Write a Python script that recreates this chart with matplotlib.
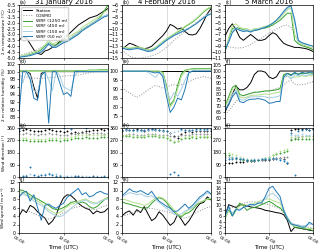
import matplotlib

matplotlib.use("Agg")
import matplotlib.pyplot as plt
import numpy as np

hours = list(range(25))
days = ["31 January 2016", "4 February 2016", "5 March 2016"]
sources = ["Station", "COSMO", "WRF (1250 m)", "WRF (450 m)", "WRF (150 m)", "WRF (50 m)"]

# ---- 2 m temperature (degC), order: station, cosmo, wrf1250, wrf450, wrf150, wrf50
temp_jan31 = [
    [-3.5, -3.2, -3.3, -3.8, -4.3, -4.6, -4.7, -4.4, -4.3, -4.1, -3.9, -3.6, -3.4,
     -3.1, -2.8, -2.5, -2.2, -2.0, -1.8, -1.6, -1.5, -1.4, -1.2, -1.0, -0.8],
    [-4.8, -4.7, -4.6, -4.5, -4.4, -4.3, -4.1, -3.9, -3.9, -4.0, -4.0, -3.9, -3.7,
     -3.5, -3.3, -3.0, -2.8, -2.6, -2.4, -2.2, -2.0, -1.8, -1.6, -1.5, -1.4],
    [-4.9, -4.85, -4.8, -4.7, -4.6, -4.5, -4.3, -4.0, -3.7, -3.9, -3.9, -3.7, -3.5,
     -3.4, -3.3, -3.1, -2.9, -2.6, -2.4, -2.2, -2.0, -1.8, -1.5, -1.0, -0.5],
    [-4.85, -4.8, -4.7, -4.6, -4.5, -4.4, -4.2, -3.9, -3.5, -3.8, -3.7, -3.5, -3.3,
     -3.2, -3.1, -2.9, -2.7, -2.4, -2.2, -2.0, -1.8, -1.6, -1.4, -1.1, -0.9],
    [-4.9, -4.85, -4.8, -4.75, -4.65, -4.55, -4.4, -4.1, -3.7, -4.0, -4.0, -3.8, -3.6,
     -3.5, -3.3, -3.1, -2.9, -2.6, -2.4, -2.2, -2.0, -1.8, -1.6, -1.4, -1.3],
    [-4.95, -4.9, -4.85, -4.8, -4.7, -4.6, -4.5, -4.2, -3.8, -4.1, -4.1, -3.9, -3.7,
     -3.6, -3.4, -3.2, -3.0, -2.7, -2.5, -2.3, -2.1, -1.9, -1.7, -1.5, -1.4],
]
temp_feb04 = [
    [-13.5, -13.0, -12.5, -12.7, -13.0, -13.3, -13.4, -13.3, -13.0, -12.4, -11.8, -11.2, -10.4,
     -9.3, -9.6, -10.1, -9.9, -10.5, -11.0, -11.1, -10.9, -10.0, -8.8, -7.5, -6.6],
    [-13.6, -14.2, -14.7, -14.9, -15.0, -15.0, -14.9, -14.8, -14.6, -14.4, -14.1, -13.7, -13.2,
     -12.6, -12.0, -11.5, -11.0, -10.5, -10.0, -9.5, -9.0, -8.5, -8.0, -7.5, -7.0],
    [-13.2, -13.3, -13.4, -13.3, -13.2, -13.3, -13.5, -13.7, -13.6, -13.3, -12.8, -12.3, -11.8,
     -11.4, -11.0, -10.6, -10.2, -9.7, -9.3, -8.9, -8.4, -7.8, -7.2, -6.7, -6.4],
    [-13.1, -13.2, -13.3, -13.2, -13.1, -13.2, -13.4, -13.6, -13.5, -13.2, -12.7, -12.2, -11.7,
     -11.3, -10.9, -10.5, -10.1, -9.6, -9.2, -8.8, -8.3, -7.7, -7.1, -6.6, -6.3],
    [-13.2, -13.4, -13.5, -13.4, -13.3, -13.4, -13.6, -13.8, -13.7, -13.4, -12.9, -12.4, -11.9,
     -11.5, -11.1, -10.8, -10.5, -10.2, -9.9, -9.5, -9.1, -8.6, -8.1, -7.7, -7.4],
    [-13.3, -13.5, -13.6, -13.5, -13.4, -13.5, -13.7, -13.9, -13.8, -13.5, -13.0, -12.5, -12.0,
     -11.6, -11.2, -10.9, -10.6, -10.3, -10.0, -9.6, -9.2, -8.7, -8.2, -7.8, -7.5],
]
temp_mar05 = [
    [-7.3, -6.0, -5.2, -6.2, -7.5, -8.0, -7.5, -7.0, -7.5, -8.0, -8.0, -7.8, -7.2,
     -6.7, -7.0, -7.8, -8.5, -8.8, -9.0, -9.2, -9.2, -9.3, -9.4, -9.6, -9.9],
    [-9.0, -9.1, -9.2, -9.3, -9.3, -9.2, -9.0, -8.7, -8.3, -8.0, -7.6, -7.2, -6.8,
     -6.4, -6.1, -5.8, -5.5, -5.4, -5.8, -7.0, -8.0, -8.6, -9.0, -9.3, -9.5],
    [-10.0, -8.0, -6.0, -5.8, -6.0, -6.2, -6.3, -6.5, -6.3, -6.2, -6.0, -5.9, -5.7,
     -5.4, -5.0, -4.6, -4.0, -3.4, -3.4, -8.0, -8.6, -8.9, -9.1, -9.3, -9.6],
    [-9.8, -7.5, -5.5, -5.2, -5.8, -6.0, -6.0, -6.3, -6.0, -6.0, -5.8, -5.6, -5.4,
     -5.1, -4.7, -4.2, -3.5, -2.8, -2.5, -7.0, -8.3, -8.7, -8.9, -9.1, -9.3],
    [-9.5, -8.0, -6.5, -5.8, -6.2, -6.3, -6.2, -6.5, -6.2, -6.1, -5.9, -5.7, -5.5,
     -5.1, -4.6, -4.0, -3.3, -2.6, -2.2, -5.0, -8.2, -8.5, -8.7, -8.9, -9.0],
    [-9.6, -8.3, -6.7, -6.0, -6.3, -6.5, -6.4, -6.6, -6.3, -6.2, -6.0, -5.8, -5.5,
     -5.1, -4.6, -3.9, -3.1, -2.4, -2.1, -4.5, -8.0, -8.4, -8.6, -8.8, -9.0],
]

# ---- 2 m relative humidity (%)
rh_jan31 = [
    [100, 100, 100, 99.5, 96, 93, 99.5, 100, 100, 100, 100, 100, 100,
     100, 100, 100, 100, 100, 100, 100, 100, 100, 100, 100, 100],
    [99.0, 98.8, 98.6, 98.4, 98.3, 98.2, 98.2, 98.3, 98.4, 98.5, 98.6, 98.7, 98.8,
     98.9, 99.0, 99.0, 99.1, 99.3, 99.5, 99.7, 99.9, 100, 100, 100.1, 100.2],
    [100.2, 100.2, 100.2, 100.2, 100.2, 100.2, 100.2, 100.2, 100.2, 100.2, 100.2, 100.2, 100.2,
     100.2, 100.2, 100.2, 100.3, 100.3, 100.3, 100.4, 100.4, 100.4, 100.5, 100.5, 100.5],
    [100.1, 100.1, 100.1, 100.1, 100.1, 100.1, 100.1, 100.1, 100.1, 100.1, 100.1, 100.1, 100.1,
     100.1, 100.1, 100.1, 100.2, 100.2, 100.2, 100.3, 100.3, 100.3, 100.4, 100.4, 100.4],
    [100, 97, 100, 99, 95, 94.5, 99, 100, 98, 95, 100, 99, 96,
     95.5, 95, 99, 100, 100, 100, 100, 100, 100, 100, 100, 100],
    [89, 100, 100, 98, 93, 92.5, 99, 100, 86.5, 100, 100, 97, 94,
     94.5, 93.5, 100, 100, 100, 100, 100, 100, 100, 100, 100, 100],
]
rh_feb04 = [
    [100, 100, 100, 100, 100, 100, 100, 100, 100, 100, 100, 100, 100,
     100, 100, 100, 100, 100, 100, 100, 100, 100, 100, 100, 100],
    [91, 89, 88, 86.5, 85.5, 86.5, 88, 89.5, 91, 92, 91.5, 90.5, 91,
     92, 92.5, 92, 92.5, 93, 94, 95, 96, 96.5, 97, 96.5, 96],
    [100, 100, 100, 100, 100, 100, 100, 100, 100, 100, 100, 99.5, 92,
     81, 84, 92, 98.5, 100.5, 101, 101.3, 101.5, 101.5, 101.5, 101.5, 101.5],
    [100, 100, 100, 100, 100, 100, 100, 100, 100, 100, 100, 99, 91,
     80, 83, 90, 97, 100, 100.8, 101, 101.2, 101.2, 101.2, 101.2, 101.2],
    [100, 100, 100, 100, 100, 100, 100, 99.5, 98, 96.5, 99, 98, 90,
     84, 88, 86, 90, 95, 99.5, 100.3, 100.5, 100.5, 100.5, 100.5, 100.5],
    [100, 100, 100, 100, 100, 100, 100, 100, 99.5, 99, 99.5, 97, 86,
     77, 80, 85, 84, 90, 99, 100, 100, 100, 100, 100, 100],
]
rh_mar05 = [
    [65, 72, 80, 87, 84, 84, 86, 90, 97, 100, 100, 99, 95,
     93.5, 95, 100, 100, 100, 100, 100, 100, 100, 100, 100, 100],
    [63, 66, 70, 74, 77, 79, 80, 81, 81.5, 82, 82.5, 83, 83.5,
     84, 85, 86, 88, 91, 92, 89, 88, 88.5, 89, 90, 91],
    [70, 78, 86, 88, 80, 79, 80, 81, 82, 82, 82.5, 83, 83,
     83.5, 84, 85, 97, 98, 97, 98, 97.5, 98, 98, 98.5, 98],
    [69, 76, 84, 86, 78, 77, 78, 79, 79.5, 79.5, 80, 80.5, 80,
     81, 81.5, 82, 95, 96, 94, 95, 95, 96, 95.5, 96, 96],
    [68, 73, 80, 84, 76, 75, 77, 78, 78, 78, 78.5, 78, 77,
     77.5, 78, 79, 94, 96, 93, 97, 96, 97, 96, 97, 97],
    [67, 71, 78, 82, 74, 73, 75, 76, 76, 76.5, 76, 75, 72.5,
     73, 74, 74, 95, 98, 96, 99, 97, 99, 98, 99, 99],
]

# ---- wind direction (deg)
wdir_jan31 = [
    [340, 345, 350, 345, 340, 335, 340, 345, 350, 345, 340, 335, 330,
     335, 325, 330, 320, 330, 335, 340, 345, 345, 350, 345, 350],
    [315, 318, 320, 318, 315, 312, 315, 318, 320, 318, 315, 312, 310,
     312, 315, 318, 320, 322, 320, 318, 320, 322, 320, 318, 320],
    [272, 275, 270, 268, 265, 262, 265, 268, 270, 272, 270, 268, 272,
     275, 280, 285, 288, 290, 292, 290, 288, 290, 292, 295, 295],
    [285, 288, 285, 282, 280, 278, 280, 282, 285, 287, 285, 283, 287,
     290, 295, 300, 305, 308, 310, 310, 308, 310, 312, 312, 314],
    [5, 10, 15, 20, 12, 10, 18, 25, 30, 25, 20, 15, 10,
     8, 5, 8, 10, 6, 4, 3, 5, 4, 3, 2, 3],
    [355, 5, 10, 70, 15, 8, 12, 18, 20, 15, 10, 5, 358,
     2, 355, 5, 8, 3, 358, 2, 5, 3, 1, 4, 2],
]
wdir_feb04 = [
    [340, 345, 342, 348, 350, 345, 340, 345, 350, 348, 345, 340, 335,
     320, 300, 290, 315, 330, 335, 330, 335, 338, 340, 335, 338],
    [310, 312, 315, 314, 312, 310, 312, 314, 316, 315, 312, 310, 305,
     300, 295, 298, 305, 310, 312, 314, 315, 316, 315, 314, 315],
    [300, 302, 298, 296, 295, 294, 296, 298, 300, 298, 296, 292, 285,
     270, 258, 262, 280, 288, 290, 292, 290, 292, 294, 292, 294],
    [305, 308, 305, 303, 302, 300, 303, 305, 307, 305, 303, 300, 295,
     280, 265, 268, 285, 295, 298, 300, 300, 302, 303, 302, 304],
    [342, 345, 343, 340, 338, 340, 342, 345, 348, 346, 343, 340, 335,
     320, 330, 340, 345, 342, 340, 342, 344, 345, 343, 345, 346],
    [348, 350, 348, 345, 343, 345, 348, 350, 352, 350, 348, 345, 340,
     25, 35, 15, 350, 348, 346, 348, 350, 352, 350, 351, 352],
]
wdir_mar05 = [
    [100, 102, 105, 108, 110, 112, 115, 118, 120, 122, 124, 126, 128,
     132, 136, 138, 130, 100, 345, 350, 352, 355, 350, 348, 352],
    [150, 145, 140, 135, 130, 128, 126, 125, 125, 126, 128, 130, 132,
     135, 138, 140, 145, 150, 280, 290, 295, 298, 300, 300, 300],
    [165, 160, 150, 140, 130, 125, 122, 120, 122, 125, 130, 140, 150,
     160, 170, 180, 185, 190, 275, 280, 282, 280, 278, 280, 282],
    [180, 175, 168, 160, 150, 140, 132, 128, 126, 128, 132, 140, 150,
     160, 175, 190, 200, 205, 295, 300, 298, 296, 300, 298, 300],
    [140, 145, 150, 148, 142, 135, 130, 128, 130, 132, 135, 138, 140,
     142, 140, 135, 125, 110, 305, 310, 312, 315, 310, 312, 315],
    [125, 130, 135, 138, 135, 130, 126, 124, 125, 128, 130, 132, 135,
     136, 133, 128, 115, 100, 325, 15, 340, 345, 350, 348, 352],
]

# ---- wind speed (m/s)
wspd_jan31 = [
    [4.0, 5.5, 4.8, 6.5, 6.0, 5.0, 4.2, 3.5, 2.0, 2.8, 4.2, 6.5, 8.3,
     9.0, 8.8, 8.0, 7.0, 6.3, 5.8, 5.5, 4.5, 5.2, 4.8, 5.0, 5.8],
    [5.8, 5.5, 5.2, 5.0, 4.6, 4.2, 3.8, 3.5, 3.3, 3.5, 3.8, 4.2, 4.8,
     5.2, 5.6, 6.0, 6.2, 6.3, 6.0, 5.8, 5.5, 5.6, 6.0, 6.3, 6.6],
    [10.2, 10.0, 9.6, 9.0, 8.4, 8.0, 7.5, 7.0, 6.5, 5.8, 5.5, 5.6, 6.0,
     6.5, 7.2, 7.4, 7.0, 7.3, 7.0, 6.2, 5.8, 6.2, 7.0, 7.8, 8.4],
    [9.8, 9.5, 9.0, 8.5, 8.0, 7.5, 7.0, 6.2, 5.5, 5.0, 4.5, 4.8, 5.5,
     6.2, 6.8, 7.0, 7.5, 7.8, 8.0, 7.5, 7.2, 7.0, 7.5, 8.0, 8.2],
    [9.0, 9.2, 8.8, 8.2, 7.5, 7.0, 6.5, 5.8, 5.0, 4.5, 4.0, 3.8, 4.2,
     5.0, 5.8, 6.5, 7.2, 7.5, 7.8, 7.2, 6.8, 7.0, 7.5, 7.8, 8.0],
    [8.4, 9.5, 9.8, 7.5, 9.0, 6.0, 3.0, 6.5, 6.8, 6.2, 5.8, 6.5, 7.0,
     8.4, 9.1, 9.8, 10.5, 9.0, 9.5, 8.5, 8.8, 9.5, 9.8, 9.3, 9.1],
]
wspd_feb04 = [
    [4.0, 4.8, 5.2, 4.2, 5.5, 4.8, 6.2, 4.5, 2.9, 3.5, 5.0, 4.2, 3.0,
     1.8, 2.5, 4.4, 3.2, 1.8, 2.8, 4.2, 5.8, 6.9, 7.2, 8.5, 7.8],
    [4.0, 4.2, 4.5, 4.8, 5.0, 5.2, 5.5, 5.8, 5.8, 5.6, 5.4, 5.2, 5.0,
     4.8, 4.5, 4.0, 3.6, 3.5, 3.8, 4.2, 4.8, 5.2, 5.6, 6.0, 6.2],
    [7.3, 7.0, 6.8, 6.5, 6.3, 6.0, 5.8, 6.0, 7.0, 7.8, 8.3, 8.0, 7.2,
     6.0, 5.0, 4.2, 3.8, 4.5, 4.8, 5.5, 6.5, 7.2, 7.5, 8.0, 7.8],
    [8.0, 7.8, 7.5, 7.2, 7.0, 6.8, 6.5, 6.8, 7.5, 8.2, 8.5, 8.2, 7.5,
     6.5, 5.5, 4.5, 4.0, 4.8, 5.5, 6.0, 6.8, 7.2, 7.6, 8.0, 8.2],
    [8.5, 9.0, 9.5, 9.3, 9.0, 9.2, 8.8, 8.5, 8.8, 8.0, 7.2, 6.5, 5.8,
     5.2, 4.5, 4.2, 4.5, 5.2, 5.5, 6.0, 7.0, 8.0, 8.8, 9.5, 9.0],
    [8.8, 9.5, 10.4, 9.8, 9.6, 10.0, 9.5, 9.0, 9.8, 8.5, 7.5, 6.9, 6.3,
     5.8, 5.0, 5.2, 6.0, 6.8, 5.8, 6.5, 7.5, 8.5, 9.1, 9.9, 9.2],
]
wspd_mar05 = [
    [6.0, 10.0, 9.5, 9.0, 9.8, 10.0, 9.5, 9.2, 9.0, 8.8, 8.5, 8.0, 7.8,
     7.5, 7.2, 7.0, 6.5, 4.5, 0.5, 2.0, 1.8, 1.5, 1.3, 1.0, 0.8],
    [8.0, 8.5, 9.0, 9.5, 10.0, 10.5, 10.8, 11.0, 11.0, 10.8, 10.5, 10.2, 10.0,
     9.5, 9.0, 8.5, 7.0, 5.0, 3.5, 3.0, 2.8, 2.5, 2.3, 2.0, 1.8],
    [5.0, 8.3, 6.0, 8.0, 10.6, 9.5, 8.0, 8.8, 9.0, 9.5, 10.0, 10.6, 11.2,
     10.5, 9.5, 8.9, 7.5, 5.5, 3.5, 2.0, 1.8, 1.6, 1.4, 1.2, 0.9],
    [5.5, 7.5, 7.0, 8.5, 9.5, 10.0, 9.8, 10.0, 10.5, 11.0, 11.5, 12.0, 12.0,
     11.5, 11.0, 10.5, 8.0, 5.0, 3.0, 2.5, 2.2, 2.0, 1.8, 1.6, 1.5],
    [5.8, 8.5, 7.0, 8.0, 8.5, 9.0, 9.5, 9.8, 10.0, 10.5, 11.0, 12.0, 13.5,
     14.0, 13.0, 11.5, 8.5, 5.5, 3.5, 3.0, 2.8, 2.5, 2.6, 3.2, 3.0],
    [6.0, 9.5, 6.0, 8.5, 8.0, 9.0, 9.5, 10.2, 9.8, 10.5, 10.6, 12.9, 15.8,
     16.5, 14.6, 12.9, 8.0, 5.0, 3.2, 2.8, 2.5, 2.0, 2.2, 3.8, 3.0],
]

panels = [
    [temp_jan31, temp_feb04, temp_mar05],
    [rh_jan31, rh_feb04, rh_mar05],
    [wdir_jan31, wdir_feb04, wdir_mar05],
    [wspd_jan31, wspd_feb04, wspd_mar05],
]
ylabels = ["2 m temperature (\u00b0C)", "2 m relative humidity (%)",
           "Wind direction (\u00b0)", "Wind speed (m s$^{-1}$)"]
ylabel_x = [-0.145, -0.145, -0.145, -0.11]
ylims = [[(-5, -0.5), (-15, -6), (-11, -2)],
         [(86, 102), (70, 104), (54, 106)],
         [(0, 360)] * 3,
         [(0, 12), (0, 12), (0, 18)]]
yticks = [[np.arange(-5, -0.49, 0.5), np.arange(-15, -5.9, 1), np.arange(-11, -1.9, 1)],
          [np.arange(88, 102.1, 2), np.arange(75, 104, 5), np.arange(60, 106, 5)],
          [np.arange(0, 361, 90)] * 3,
          [np.arange(0, 12.1, 2), np.arange(0, 12.1, 2), np.arange(0, 18.1, 2)]]

colors = ["black", "#909090", "#33a02c", "#b2df8a", "#a6cee3", "#1f78b4"]
styles = ["-", ":", "-", "-", "-", "-"]

col_x = [(19, 108), (122, 211), (225, 313)]
row_y = [(5, 58), (64, 125), (128, 177), (182, 233)]
W, H = 320, 252

fig = plt.figure(figsize=(3.2, 2.52), dpi=100)
plt.rcParams["font.family"] = "DejaVu Sans"

letters = "abcdefghijkl"
for r in range(4):
    for c in range(3):
        x0, x1 = col_x[c]
        y0, y1 = row_y[r]
        ax = fig.add_axes([x0 / W, (H - y1) / H, (x1 - x0) / W, (y1 - y0) / H])
        data = panels[r][c]
        for k in range(6):
            if r == 2:
                ax.plot(hours, data[k], linestyle="none", marker="o", ms=1.0,
                        mew=0.3, color=colors[k], label=sources[k])
            else:
                ax.plot(hours, data[k], linestyle=styles[k], color=colors[k],
                        lw=0.7, label=sources[k])
        ax.set_xlim(0, 24)
        ax.set_ylim(*ylims[r][c])
        ax.set_yticks(yticks[r][c])
        if r == 0 and c == 0:
            ax.set_yticklabels([f"{v:.1f}" for v in yticks[r][c]])
        ax.set_xticks([0, 12, 24])
        ax.grid(axis="x", color="#cccccc", lw=0.5)
        ax.tick_params(labelsize=3.4, length=1.5, width=0.4, pad=1)
        for s in ax.spines.values():
            s.set_linewidth(0.5)
        if r == 3:
            ax.set_xticklabels(["00:00", "12:00", "00:00"], rotation=-30,
                               ha="center", fontsize=3.2)
            ax.tick_params(axis="x", pad=0.5)
            ax.set_xlabel("Time (UTC)", fontsize=4, labelpad=0)
        else:
            ax.set_xticklabels([])
        if c == 0:
            ax.set_ylabel(ylabels[r], fontsize=3.0)
            ax.yaxis.set_label_coords(ylabel_x[r], 0.5)
        if r == 0:
            ax.set_title(days[c], fontsize=5, pad=0.5)
        ax.text(0.01, 1.0, f"({letters[r * 3 + c]})", transform=ax.transAxes,
                fontsize=3.5, va="bottom", ha="left")
        if r == 0 and c == 0:
            ax.legend(loc="upper left", fontsize=3.2, frameon=True, handlelength=2.2,
                      borderpad=0.3, labelspacing=0.25, framealpha=0.8)

fig.savefig("out.png", dpi=100)
